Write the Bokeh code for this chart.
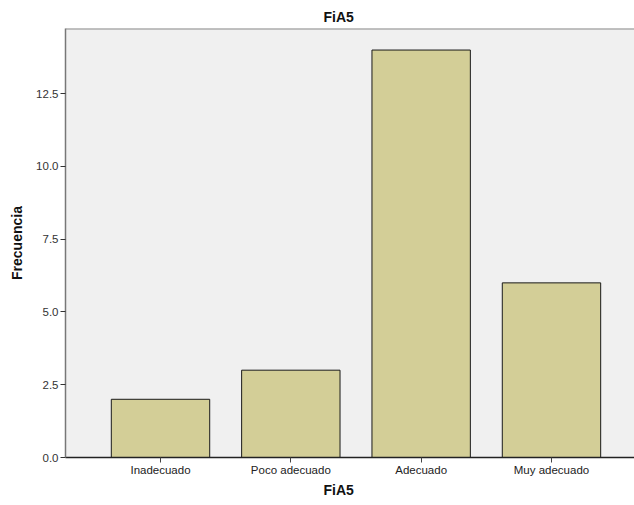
from bokeh.plotting import figure
from bokeh.models import Range1d, FixedTicker, Title, NumeralTickFormatter, ColumnDataSource, Span
from bokeh.embed import file_html
from bokeh.resources import INLINE

categories = ["Inadecuado", "Poco adecuado", "Adecuado", "Muy adecuado"]
counts = [2, 3, 14, 6]
y_ticks = [0, 2.5, 5, 7.5, 10, 12.5]
y_max = 14.74

xpos = list(range(1, len(categories) + 1))
src = ColumnDataSource(dict(x=xpos, top=counts, cat=categories))

FONT = "Liberation Sans"

p = figure(width=634, height=505, output_backend="svg", toolbar_location=None,
           x_range=Range1d(0.271, 4.637), y_range=Range1d(0, y_max),
           min_border_left=65, min_border_right=0, min_border_top=28, min_border_bottom=48)
p.background_fill_color = "#f0f0f0"
p.border_fill_color = "white"
p.outline_line_color = None
p.grid.visible = False

p.add_layout(Span(location=y_max, dimension="width", line_color="#8a8a8a", line_width=2))

p.vbar(x="x", top="top", width=0.755, bottom=0, source=src,
       fill_color="#d3ce97", line_color="#1a1a1a", line_width=1)

# x axis
xa = p.xaxis[0]
xa.ticker = FixedTicker(ticks=xpos)
xa.major_label_overrides = {i: c for i, c in zip(xpos, categories)}
xa.axis_line_color = "#222222"
xa.axis_line_width = 1.5
xa.major_tick_line_color = "#444444"
xa.major_tick_out = 5
xa.major_tick_in = 0
xa.minor_tick_line_color = None
xa.major_label_text_font = FONT
xa.major_label_text_font_size = "11.5px"
xa.major_label_text_color = "#222222"
xa.major_label_standoff = 1

# y axis
ya = p.yaxis[0]
ya.ticker = FixedTicker(ticks=y_ticks)
ya.formatter = NumeralTickFormatter(format="0.0")
ya.axis_line_color = "#777777"
ya.axis_line_width = 1.5
ya.major_tick_line_color = "#333333"
ya.major_tick_out = 5
ya.major_tick_in = 0
ya.minor_tick_line_color = None
ya.major_label_text_font = FONT
ya.major_label_text_font_size = "11.5px"
ya.major_label_text_color = "#333333"
ya.major_label_standoff = 2
ya.axis_label = "Frecuencia"
ya.axis_label_text_font = FONT
ya.axis_label_text_font_size = "14px"
ya.axis_label_text_font_style = "bold"
ya.axis_label_text_color = "#111111"
ya.axis_label_standoff = 8

p.title = None
top_title = Title(text="FiA5", align="left", offset=258, text_font=FONT,
                  text_font_size="14px", text_font_style="bold", text_color="#111111",
                  standoff=7)
p.add_layout(top_title, "above")

x_title = Title(text="FiA5", align="left", offset=258, text_font=FONT,
                text_font_size="14px", text_font_style="bold", text_color="#111111",
                standoff=2)
p.add_layout(x_title, "below")

open("out.html", "w").write(file_html(p, INLINE))
